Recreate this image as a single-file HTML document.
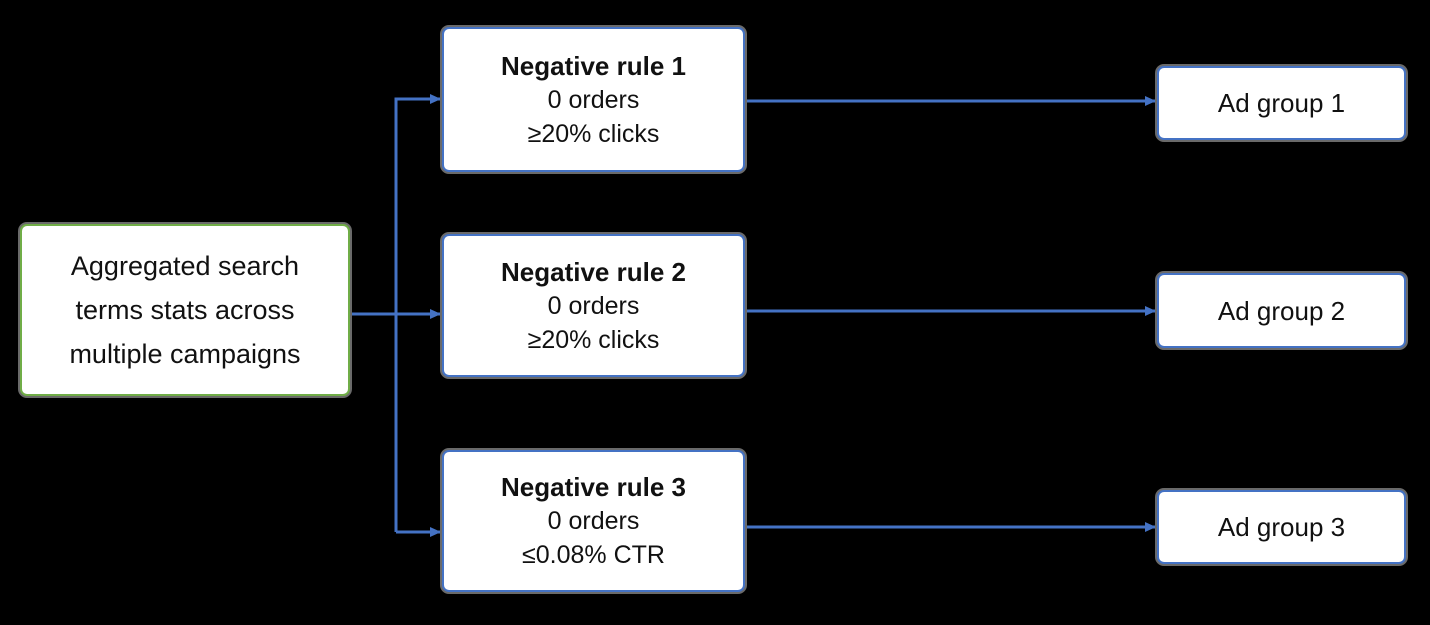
<!DOCTYPE html>
<html><head><style>
body{margin:0;width:1430px;height:625px;background:#000;position:relative;overflow:hidden;font-family:"Liberation Sans",sans-serif;}
.b{position:absolute;background:#fff;border:2px solid #4472c4;border-radius:7px;box-sizing:border-box;display:flex;flex-direction:column;justify-content:center;align-items:center;text-align:center;color:#111;font-size:25px;line-height:34px;box-shadow:0 0 0 2px #6a6a6a;}
.b b{font-size:26px;}
</style></head><body>
<svg width="1430" height="625" style="position:absolute;left:0;top:0">
<defs><marker id="a" markerWidth="12" markerHeight="12" refX="10" refY="6" orient="auto" markerUnits="userSpaceOnUse"><path d="M0,1 L11,6 L0,11 z" fill="#4472c4"/></marker></defs>
<g stroke="#4472c4" stroke-width="3" fill="none">
<path d="M350,314 H440" marker-end="url(#a)"/>
<path d="M396,532 V99 H440" marker-end="url(#a)"/>
<path d="M396,532 H440" marker-end="url(#a)"/>
<path d="M745,101 H1155" marker-end="url(#a)"/>
<path d="M745,311 H1155" marker-end="url(#a)"/>
<path d="M745,527 H1155" marker-end="url(#a)"/>
</g></svg>
<div class="b" style="left:20px;top:224px;width:330px;height:172px;border-color:#70ad47;font-size:27px;line-height:44px">Aggregated search<br>terms stats across<br>multiple campaigns</div>
<div class="b" style="left:442px;top:27px;width:303px;height:145px"><b>Negative rule 1</b>0 orders<br>≥20% clicks</div>
<div class="b" style="left:442px;top:234px;width:303px;height:143px"><b>Negative rule 2</b>0 orders<br>≥20% clicks</div>
<div class="b" style="left:442px;top:450px;width:303px;height:142px"><b>Negative rule 3</b>0 orders<br>≤0.08% CTR</div>
<div class="b" style="left:1157px;top:66px;width:249px;height:74px;font-size:26px">Ad group 1</div>
<div class="b" style="left:1157px;top:273px;width:249px;height:75px;font-size:26px">Ad group 2</div>
<div class="b" style="left:1157px;top:490px;width:249px;height:74px;font-size:26px">Ad group 3</div>
</body></html>
